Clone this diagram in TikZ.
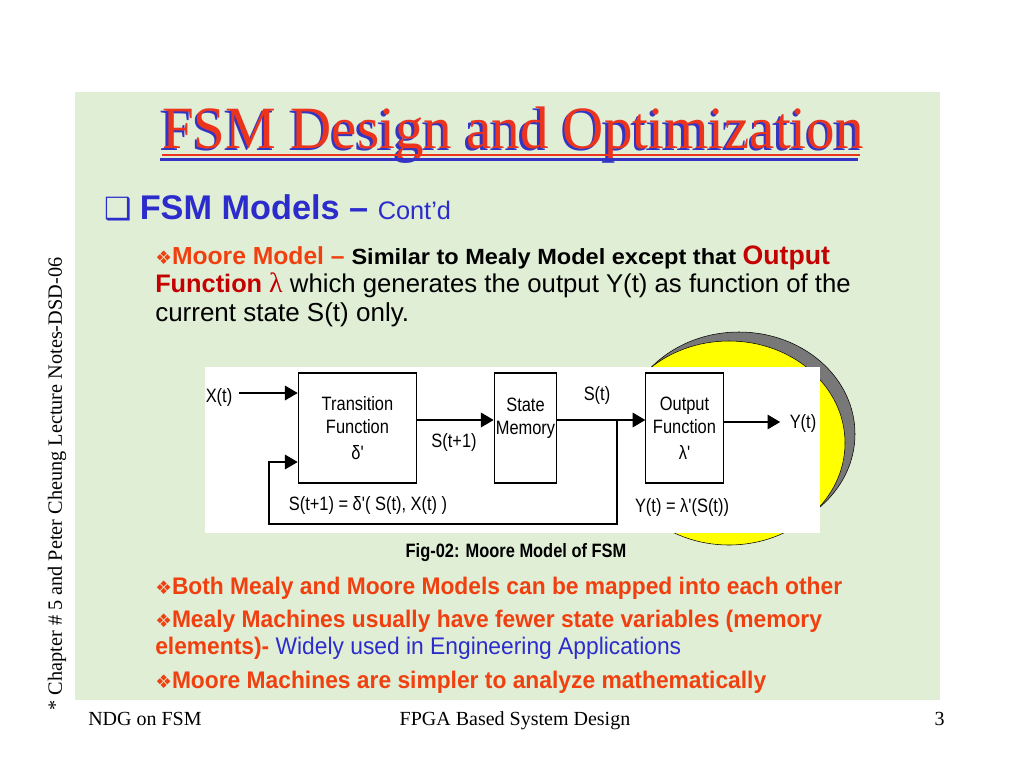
\documentclass[tikz,border=0pt]{standalone}
\usepackage{fontspec}
\setmainfont{Liberation Serif}
\newfontfamily\titlefont[FakeStretch=0.95]{Liberation Serif}
\newfontfamily\slidesans{Liberation Sans}
\newfontfamily\widesans[FakeStretch=1.07]{Liberation Sans}
\newfontfamily\bulletsans[FakeStretch=0.95]{Liberation Sans}
\newfontfamily\diagfont[FakeStretch=0.85]{Liberation Sans}
\newfontfamily\symfont{DejaVu Sans}
\usetikzlibrary{arrows.meta}

\definecolor{boardgreen}{RGB}{224,238,214}
\definecolor{titlered}{RGB}{236,52,28}
\definecolor{titleblue}{RGB}{52,52,196}
\definecolor{slideblue}{RGB}{44,44,204}
\definecolor{bulletred}{RGB}{240,64,16}
\definecolor{darkred}{RGB}{196,0,0}
\definecolor{ovalgray}{RGB}{120,120,120}
\definecolor{ovalyellow}{RGB}{255,255,0}

\newcommand{\dia}{{\symfont\symbol{"2756}}}
\newcommand{\sqbullet}{{\symfont\symbol{"2751}}}
\newcommand{\fs}[1]{\fontsize{#1}{1.2\dimexpr#1pt\relax}\selectfont}

\begin{document}
\begin{tikzpicture}[x=0.75pt, y=-0.75pt,
    line/.style ={anchor=base west, inner sep=0pt, font=\slidesans},
    block/.style ={draw, line width=0.8pt, fill=white, align=center, inner sep=0pt,
                   font=\diagfont\fs{14.5}},
    tag/.style ={inner sep=1pt, font=\diagfont\fs{14.5}},
    flow/.style ={line width=0.8pt, -{Triangle[length=9.5pt, width=11pt]}}]
   \useasboundingbox (0,0) rectangle (1024,768);
   \fill[white] (0,0) rectangle (1024,768);
   \fill[boardgreen] (75,92) rectangle (940,700);

   % title
   \node[anchor=base west, inner sep=0pt, text=titleblue, font=\titlefont\fs{45}] (titleshadow) at (159.5,150.5) {FSM Design and Optimization};
   \node[anchor=base west, inner sep=0pt, text=titlered, font=\titlefont\fs{45}] (title) at (162,148) {FSM Design and Optimization};
   \draw[titleblue, line width=2.2pt] (titleshadow.base west) ++(0,9) -- ++(698,0);
   \draw[titlered, line width=2.2pt] (title.base west) ++(0,7) -- ++(698,0);

   % bullets at the top
   \node[line, text=slideblue] (models) at (104,219)
     {{\symfont\fs{23}\sqbullet}\hspace{6pt}{\bfseries\fs{25.7}FSM Models – }{\fs{19}Cont’d}};
   \node[line] (moore1) at (155,264)
     {{\color{bulletred}\fs{14}\dia}{\color{bulletred}\bfseries\fs{18.5}Moore Model – }%
      {\widesans\bfseries\fs{16.5}Similar to Mealy Model except that }%
      {\color{darkred}\bfseries\fs{20}Output}};
   \node[line] (moore2) at (155,292)
     {{\color{darkred}\bfseries\fs{19}Function }{\color{darkred}\rmfamily\fs{21}λ}{\fs{19.3} which generates the output Y(t) as function of the}};
   \node[line, font=\slidesans\fs{19.5}] (moore3) at (155,321) {current state S(t) only.};

   % figure
   \draw[fill=ovalgray] (739,434) ellipse [x radius=116, y radius=102];
   \draw[fill=ovalyellow] (729,443) ellipse [x radius=116, y radius=102];
   \fill[white] (205,367) rectangle (820,533);

   \node[block, minimum width=89pt, minimum height=82.5pt] (trans) at (357.5,428)
     {Transition\\Function\\[2pt]δ'};
   \node[block, minimum width=47pt, minimum height=82.5pt] (mem) at (525.5,428)
     {State\\Memory\\{}};
   \node[block, minimum width=58pt, minimum height=82.5pt] (out) at (684.5,428)
     {Output\\Function\\[2pt]λ'};

   \node[tag] (xin) at (219,397) {X(t)};
   \node[tag] (yout) at (803,423) {Y(t)};
   \node[tag] (snext) at (454,442) {S(t+1)};
   \node[tag] (snow) at (597,395) {S(t)};
   \node[tag] (deltaeq) at (368,505) {S(t+1) = δ'( S(t), X(t) )};
   \node[tag] (lambdaeq) at (682,507) {Y(t) = λ'(S(t))};
   \coordinate (tap) at (617,420);
   \coordinate (fb) at (269,524);

   \draw[flow, shorten <=4pt] ([yshift=3pt]xin.east) -- ([yshift=3pt]xin.east -| trans.west);
   \draw[flow] ([yshift=6pt]trans.east) -- ([yshift=6pt]mem.west);
   \draw[flow] ([yshift=6pt]mem.east) -- ([yshift=6pt]out.west);
   \draw[flow, shorten >=6pt] ([yshift=4.5pt]out.east) -- ([yshift=4.5pt]out.east -| yout.west);
   \draw[flow] (tap) |- (fb) |- ([yshift=-25.5pt]trans.west);

   \node[font=\diagfont\bfseries\fs{14.5}] (caption) at (516,553) {Fig-02: Moore Model of FSM};

   % bullets at the bottom
   \node[line, text=bulletred, font=\bulletsans] (both) at (155,594)
     {{\fs{14}\dia}{\bfseries\fs{18}Both Mealy and Moore Models can be mapped into each other}};
   \node[line, text=bulletred, font=\bulletsans] (mealy1) at (155,627)
     {{\fs{14}\dia}{\bfseries\fs{18}Mealy Machines usually have fewer state variables (memory}};
   \node[line, font=\bulletsans] (mealy2) at (155,654)
     {{\color{bulletred}\bfseries\fs{18}elements)- }{\color{slideblue}\fs{18}Widely used in Engineering Applications}};
   \node[line, text=bulletred, font=\bulletsans] (simple) at (155,688)
     {{\fs{14}\dia}{\bfseries\fs{18}Moore Machines are simpler to analyze mathematically}};

   % footer and side note
   \node[anchor=base west, inner sep=0pt, font=\fs{15}] (foot1) at (88,725) {NDG on FSM};
   \node[anchor=base, inner sep=0pt, font=\fs{15}] (foot2) at (515,725) {FPGA Based System Design};
   \node[anchor=base east, inner sep=0pt, font=\fs{15}] (foot3) at (945,725) {3};
   \node[rotate=90, inner sep=0pt, font=\fs{15.2}] (side) at (57,484) {* Chapter \# 5 and Peter Cheung Lecture Notes-DSD-06};
\end{tikzpicture}
\end{document}
